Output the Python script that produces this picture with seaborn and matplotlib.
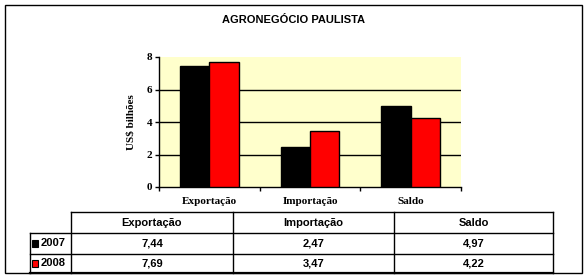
import numpy as np
import pandas as pd
import matplotlib
matplotlib.use("Agg")
import matplotlib.pyplot as plt
from matplotlib.patches import Rectangle
from matplotlib.lines import Line2D
import seaborn as sns

categories = ["Exportação", "Importação", "Saldo"]
years = ["2007", "2008"]
values_2007 = [7.44, 2.47, 4.97]
values_2008 = [7.69, 3.47, 4.22]
value_labels_2007 = ["7,44", "2,47", "4,97"]
value_labels_2008 = ["7,69", "3,47", "4,22"]
title = "AGRONEGÓCIO PAULISTA"
ylabel = "US$ bilhões"
yticks = [0, 2, 4, 6, 8]
series_colors = ["black", "red"]

df = pd.DataFrame({
    "cat": categories * 2,
    "val": values_2007 + values_2008,
    "ano": [years[0]] * 3 + [years[1]] * 3,
})

sns.set_theme(style="white")
sans = ["Liberation Sans", "DejaVu Sans"]
serif = ["Liberation Serif", "DejaVu Serif"]
plt.rcParams["font.family"] = sans
plt.rcParams["text.color"] = "black"

W, H = 588, 279
fig = plt.figure(figsize=(W / 100, H / 100), dpi=100)
fig.patch.set_facecolor("white")

def fx(px):
    return px / W

def fy(py):
    return 1 - py / H

def hline(y, x0, x1, lw=1.0):
    fig.add_artist(Line2D([fx(x0), fx(x1)], [fy(y), fy(y)], transform=fig.transFigure,
                          color="black", linewidth=lw, solid_capstyle="projecting"))

def vline(x, y0, y1, lw=1.0):
    fig.add_artist(Line2D([fx(x), fx(x)], [fy(y0), fy(y1)], transform=fig.transFigure,
                          color="black", linewidth=lw, solid_capstyle="projecting"))

# outer border
fig.patches.append(Rectangle((fx(5), fy(273)), fx(582) - fx(5), fy(5) - fy(273),
                             transform=fig.transFigure, fill=False,
                             edgecolor="black", linewidth=1.0, zorder=0))

fig.text(fx(293), fy(20), title, ha="center", va="center", color="black",
         fontsize=8, fontweight="bold", family=sans)

ax = fig.add_axes([fx(159), fy(187), fx(461) - fx(159), fy(57) - fy(187)])
ax.set_facecolor("#FFFFCC")
sns.barplot(data=df, x="cat", y="val", hue="ano", palette=series_colors,
            edgecolor="black", linewidth=1.0, width=0.585, saturation=1,
            legend=False, ax=ax, zorder=3)
ax.set_xlim(-0.5, 2.5)
ax.set_ylim(0, 8)
ax.set_yticks(yticks)
ax.set_yticklabels([str(t) for t in yticks])
ax.yaxis.grid(True, color="black", linewidth=1.0, zorder=1)
ax.set_axisbelow(True)
gl = ax.yaxis.get_gridlines()
gl[0].set_visible(False)
gl[-1].set_visible(False)
for s in ["top", "right"]:
    ax.spines[s].set_visible(False)
for s in ["left", "bottom"]:
    ax.spines[s].set_color("black")
    ax.spines[s].set_linewidth(1.0)
ax.set_xticks([0, 1, 2])
ax.set_xticklabels(categories)
ax.set_xticks([-0.5, 0.5, 1.5, 2.5], minor=True)
ax.tick_params(axis="x", which="major", length=0, pad=7)
ax.tick_params(axis="x", which="minor", length=3, width=1, color="black", direction="out", bottom=True)
ax.tick_params(axis="y", which="major", length=3, width=1, color="black", direction="out", left=True, pad=2)
for lab in ax.get_xticklabels() + ax.get_yticklabels():
    lab.set_fontfamily(serif)
    lab.set_fontweight("bold")
    lab.set_fontsize(8)
    lab.set_color("black")
ax.set_xlabel("")
ax.set_ylabel(ylabel, fontsize=8, fontweight="bold", family=serif, color="black", labelpad=8)

# data table (drawn manually)
col_edges = [71, 233, 394, 553]
row_edges = [212, 233, 253.5, 273]
rowlab_left = 30

hline(row_edges[0], col_edges[0], col_edges[-1])
for y in row_edges[1:-1]:
    hline(y, rowlab_left, col_edges[-1])
hline(row_edges[-1], rowlab_left, col_edges[-1], lw=1.6)
vline(rowlab_left, row_edges[1], row_edges[-1])
for x in col_edges:
    vline(x, row_edges[0], row_edges[-1])

for j, name in enumerate(categories):
    xc = (col_edges[j] + col_edges[j + 1]) / 2
    fig.text(fx(xc), fy((row_edges[0] + row_edges[1]) / 2), name, ha="center", va="center",
             fontsize=8, fontweight="bold", family=sans, color="black")

for i, (yr, labels, colr) in enumerate(zip(years, [value_labels_2007, value_labels_2008], series_colors)):
    yc = (row_edges[i + 1] + row_edges[i + 2]) / 2
    fig.text(fx(66), fy(yc), yr, ha="right", va="center",
             fontsize=8, fontweight="bold", family=sans, color="black")
    fig.patches.append(Rectangle((fx(31.5), fy(yc + 3.5)), fx(6.5), fy(0) - fy(6.5),
                                 transform=fig.transFigure, facecolor=colr,
                                 edgecolor="black", linewidth=0.8, zorder=5))
    for j, lab in enumerate(labels):
        xc = (col_edges[j] + col_edges[j + 1]) / 2
        fig.text(fx(xc), fy(yc), lab, ha="center", va="center",
                 fontsize=8, fontweight="bold", family=sans, color="black")

fig.savefig("out.png", dpi=100, facecolor="white")
